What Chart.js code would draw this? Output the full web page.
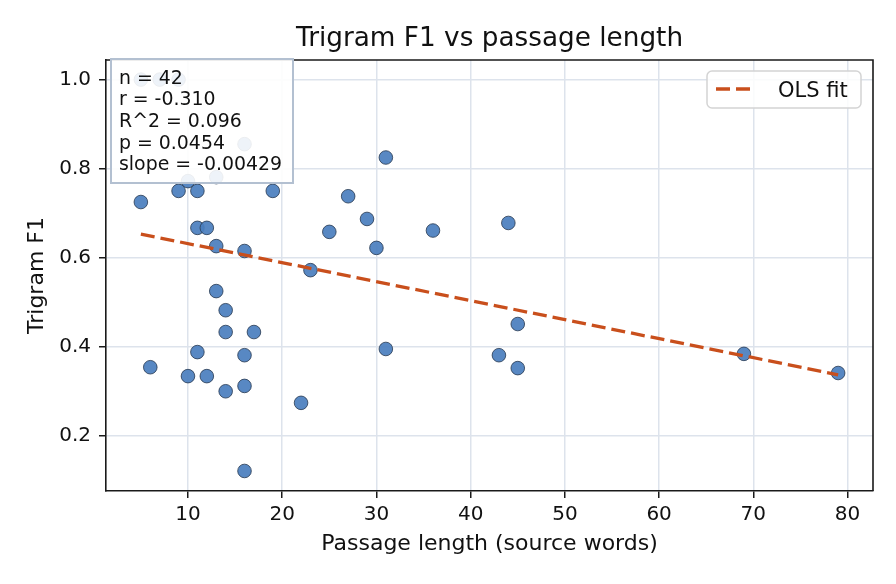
<!DOCTYPE html>
<html>
<head>
<meta charset="utf-8">
<script src="https://cdn.jsdelivr.net/npm/chart.js@4.4.1/dist/chart.umd.min.js"></script>
<style>
  html, body { margin: 0; padding: 0; background: #ffffff; }
  #wrap { width: 896px; height: 584px; }
</style>
</head>
<body>
<div id="wrap"><canvas id="c" width="896" height="584"></canvas></div>
<script>
// ---- Data ----
const passageLength = [5, 6, 9, 10, 10, 11, 11, 11, 12, 12, 13, 13, 13, 14, 14, 14, 16, 16, 16, 16, 16, 17, 19, 22, 23, 25, 27, 29, 30, 31, 31, 36, 43, 44, 45, 45, 69, 79, 5, 7, 9];
const trigramF1    = [0.725, 0.354, 0.750, 0.772, 0.334, 0.750, 0.667, 0.388, 0.667, 0.334, 0.781, 0.626, 0.525, 0.482, 0.433, 0.300, 0.855, 0.615, 0.381, 0.312, 0.121, 0.433, 0.750, 0.274, 0.572, 0.658, 0.738, 0.687, 0.622, 0.825, 0.395, 0.661, 0.381, 0.678, 0.451, 0.352, 0.384, 0.341, 1.0, 1.0, 1.0];
const fitX = [5, 79];
const fitY = [0.653, 0.337];
const xTicks = [10, 20, 30, 40, 50, 60, 70, 80];
const yTicks = [0.2, 0.4, 0.6, 0.8, 1.0];
const statsLines = ["n = 42", "r = -0.310", "R^2 = 0.096", "p = 0.0454", "slope = -0.00429"];
const titleText = "Trigram F1 vs passage length";
const xLabel = "Passage length (source words)";
const yLabel = "Trigram F1";
const legendLabel = "OLS fit";

const FONT = "'DejaVu Sans', 'Liberation Sans', sans-serif";
const LINE_COLOR = "#c94f1c";

const points = passageLength.map((x, i) => ({ x: x, y: trigramF1[i] }));
const fitPoints = fitX.map((x, i) => ({ x: x, y: fitY[i] }));

const overlayPlugin = {
  id: 'overlay',
  afterDraw(chart) {
    const ctx = chart.ctx;
    const a = chart.chartArea;
    ctx.save();
    // top and right spines
    ctx.strokeStyle = '#1a1a1a';
    ctx.lineWidth = 1.6;
    ctx.beginPath();
    ctx.moveTo(a.left, a.top);
    ctx.lineTo(a.right, a.top);
    ctx.lineTo(a.right, a.bottom);
    ctx.stroke();

    // title
    ctx.fillStyle = '#111';
    ctx.font = "26.3px " + FONT;
    ctx.textAlign = 'center';
    ctx.textBaseline = 'alphabetic';
    ctx.fillText(titleText, (a.left + a.right) / 2, 46);

    // stats box
    ctx.fillStyle = 'rgba(255,255,255,0.9)';
    ctx.fillRect(111, 59, 182, 124);
    ctx.strokeStyle = '#b3c0d1';
    ctx.lineWidth = 2;
    ctx.strokeRect(111, 59, 182, 124);
    ctx.fillStyle = '#111';
    ctx.font = "18.9px " + FONT;
    ctx.textAlign = 'left';
    statsLines.forEach((t, i) => ctx.fillText(t, 119, 83.5 + i * 21.7));

    // legend
    const lx = 707, ly = 71, lw = 154, lh = 37, r = 5;
    ctx.beginPath();
    ctx.moveTo(lx + r, ly);
    ctx.arcTo(lx + lw, ly, lx + lw, ly + lh, r);
    ctx.arcTo(lx + lw, ly + lh, lx, ly + lh, r);
    ctx.arcTo(lx, ly + lh, lx, ly, r);
    ctx.arcTo(lx, ly, lx + lw, ly, r);
    ctx.closePath();
    ctx.fillStyle = 'rgba(255,255,255,0.85)';
    ctx.fill();
    ctx.strokeStyle = '#d4d4d4';
    ctx.lineWidth = 1.5;
    ctx.stroke();
    ctx.strokeStyle = LINE_COLOR;
    ctx.lineWidth = 3.3;
    ctx.setLineDash([14, 6]);
    ctx.beginPath();
    ctx.moveTo(716, 89);
    ctx.lineTo(756, 89);
    ctx.stroke();
    ctx.setLineDash([]);
    ctx.fillStyle = '#111';
    ctx.font = "21px " + FONT;
    ctx.textAlign = 'left';
    ctx.fillText(legendLabel, 778, 96.5);
    ctx.restore();
  }
};

new Chart(document.getElementById('c'), {
  type: 'scatter',
  data: {
    datasets: [
      {
        label: legendLabel,
        data: fitPoints,
        showLine: true,
        borderColor: LINE_COLOR,
        borderWidth: 3.3,
        borderDash: [14, 6],
        pointRadius: 0,
        fill: false,
        order: 0
      },
      {
        label: 'passages',
        data: points,
        pointRadius: 6.8,
        pointBackgroundColor: 'rgba(74,126,190,0.92)',
        pointBorderColor: '#26374f',
        pointBorderWidth: 0.8,
        order: 1
      }
    ]
  },
  options: {
    responsive: false,
    devicePixelRatio: 1,
    animation: false,
    layout: { padding: { left: 0, right: 23, top: 60, bottom: 0 } },
    plugins: { legend: { display: false }, tooltip: { enabled: false }, title: { display: false } },
    scales: {
      x: {
        type: 'linear',
        min: 1.3,
        max: 82.7,
        afterFit(s) { s.height = 93; },
        afterBuildTicks(s) { s.ticks = xTicks.map(v => ({ value: v })); },
        grid: { color: '#dde3ec', lineWidth: 1.5, tickColor: '#1a1a1a', tickLength: 7, tickWidth: 1.5 },
        border: { display: true, color: '#1a1a1a', width: 1.6 },
        ticks: { color: '#111', font: { family: FONT, size: 20 }, padding: 5, callback: v => String(v) },
        title: { display: true, text: xLabel, color: '#111', font: { family: FONT, size: 22 }, padding: { top: 0, bottom: 27 } }
      },
      y: {
        type: 'linear',
        min: 0.076,
        max: 1.044,
        afterFit(s) { s.width = 106; },
        afterBuildTicks(s) { s.ticks = yTicks.map(v => ({ value: v })); },
        grid: { color: '#dde3ec', lineWidth: 1.5, tickColor: '#1a1a1a', tickLength: 7, tickWidth: 1.5 },
        border: { display: true, color: '#1a1a1a', width: 1.6 },
        ticks: { color: '#111', font: { family: FONT, size: 20 }, padding: 8, callback: v => v.toFixed(1) },
        title: { display: true, text: yLabel, color: '#111', font: { family: FONT, size: 22 }, padding: { top: 24, bottom: 0 } }
      }
    }
  },
  plugins: [overlayPlugin]
});
</script>
</body>
</html>
